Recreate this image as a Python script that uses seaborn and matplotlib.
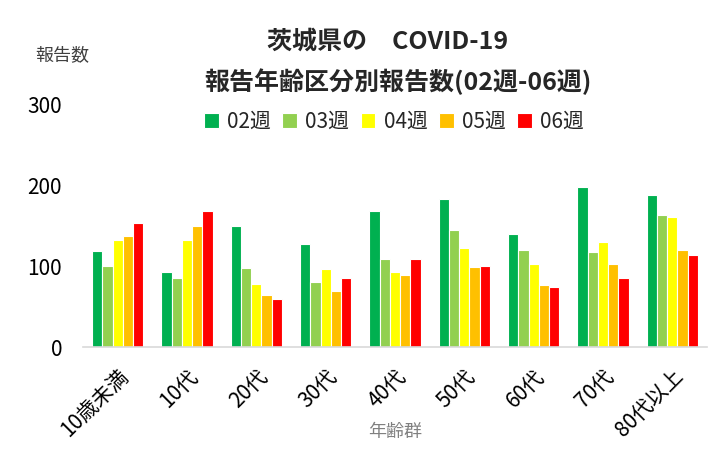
import matplotlib
matplotlib.use("Agg")
import matplotlib.pyplot as plt
import seaborn as sns
import pandas as pd

categories = ["10歳未満", "10代", "20代", "30代", "40代", "50代", "60代", "70代", "80代以上"]
weeks = ["02週", "03週", "04週", "05週", "06週"]
w02 = [119, 93, 150, 128, 168, 184, 140, 198, 189]
w03 = [100, 86, 98, 80, 109, 145, 120, 118, 164]
w04 = [133, 133, 78, 97, 93, 123, 103, 130, 161]
w05 = [138, 150, 65, 70, 89, 99, 77, 103, 120]
w06 = [154, 168, 60, 85, 109, 100, 75, 86, 114]
colors = ["#00B050", "#92D050", "#FFFF00", "#FFC000", "#FF0000"]

rows = []
for wk, vals in zip(weeks, [w02, w03, w04, w05, w06]):
    for c, v in zip(categories, vals):
        rows.append({"年齢群": c, "週": wk, "報告数": v})
df = pd.DataFrame(rows)

sns.set_theme(style="white")
plt.rcParams["font.family"] = ["Noto Sans CJK JP", "DejaVu Sans"]

fig = plt.figure(figsize=(7.14, 4.67), dpi=100)
ax = fig.add_axes([83/714, 1 - 347/467, (707 - 83)/714, (347 - 105)/467])
sns.barplot(data=df, x="年齢群", y="報告数", hue="週", order=categories,
            hue_order=weeks, palette=colors, width=0.74, ax=ax,
            edgecolor="white", linewidth=0.8, saturation=1)
ax.set_ylim(0, 300)
ax.set_xlim(-0.5, 8.5)
ax.set_yticks([0, 100, 200, 300])
ax.tick_params(axis="y", length=0, pad=15, labelsize=15, labelcolor="black")
ax.tick_params(axis="x", length=0, pad=13, labelsize=15, labelcolor="black")
for lbl in ax.get_xticklabels():
    lbl.set_rotation(45)
    lbl.set_ha("right")
    lbl.set_rotation_mode("anchor")
for s in ["left", "right", "top"]:
    ax.spines[s].set_visible(False)
ax.spines["bottom"].set_color("#d9d9d9")
ax.spines["bottom"].set_linewidth(1.2)
ax.set_ylabel("")
ax.set_xlabel("")
fig.text(395/714, 1 - 432/467, "年齢群", ha="center", va="center", fontsize=13, color="#808080")
fig.text(62/714, 1 - 55/467, "報告数", ha="center", va="center", fontsize=13, color="#404040")
fig.text(388/714, 1 - 42/467, "茨城県の　COVID-19", ha="center", va="center", fontsize=18, fontweight="bold")
fig.text(398/714, 1 - 82/467, "報告年齢区分別報告数(02週-06週)", ha="center", va="center", fontsize=18, fontweight="bold")

handles, labels = ax.get_legend_handles_labels()
ax.legend_.remove()
fig.legend(handles, labels, loc="center", bbox_to_anchor=(394/714, 1 - 122/467), ncol=5,
           frameon=False, fontsize=15, handlelength=0.7, handleheight=0.7,
           handletextpad=0.4, columnspacing=0.55)

fig.savefig("out.png", dpi=100)
